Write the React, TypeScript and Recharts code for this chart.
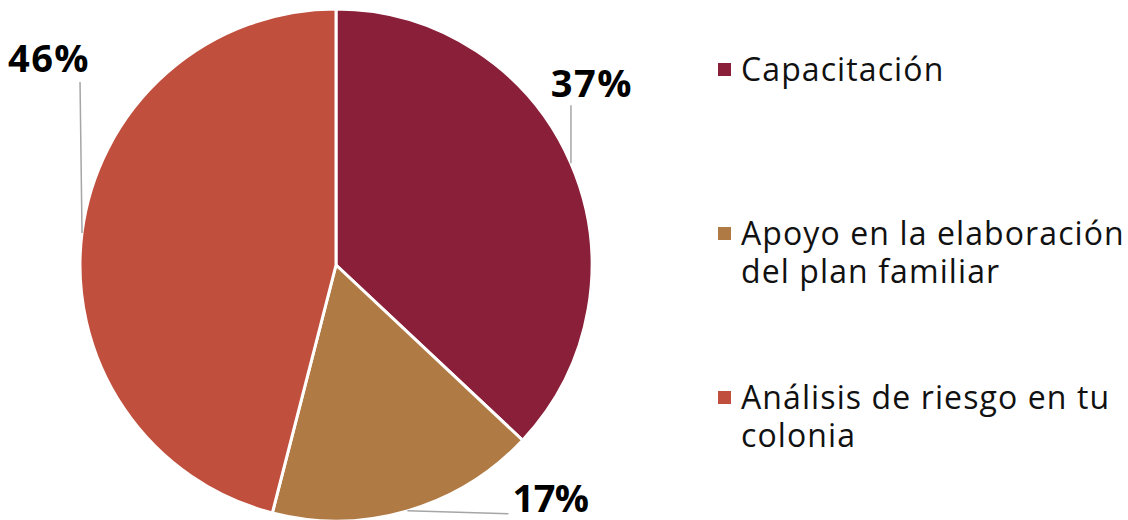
import { PieChart, Pie, Cell, Legend } from 'recharts';

const categories = ['Capacitación', 'Apoyo en la elaboración del plan familiar', 'Análisis de riesgo en tu colonia'];
const shares = [37, 17, 46];
const colors = ['#8A1F39', '#B07A45', '#C14F3D'];

const data = categories.map((name, i) => ({ name, value: shares[i] }));

// leader line end (relative to slice edge) and label offset (relative to line end)
const leaders = [
  { dx: 0, dy: -58, tx: 21, ty: -8, anchor: 'middle' },
  { dx: 101, dy: 3, tx: 4, ty: -2, anchor: 'start' },
  { dx: -2, dy: -151, tx: -31, ty: -10, anchor: 'middle' },
];

const RADIAN = Math.PI / 180;

function renderLabel(props: any) {
  const { cx, cy, midAngle, outerRadius, index, percent } = props;
  const x0 = cx + outerRadius * Math.cos(-midAngle * RADIAN);
  const y0 = cy + outerRadius * Math.sin(-midAngle * RADIAN);
  const l = leaders[index];
  const x1 = x0 + l.dx;
  const y1 = y0 + l.dy;
  return (
    <g>
      <line x1={x0} y1={y0} x2={x1} y2={y1} stroke="#A6A6A6" strokeWidth={1.5} />
      <text
        x={x1 + l.tx}
        y={y1 + l.ty}
        textAnchor={l.anchor}
        fill="#000"
        fontSize={38}
        fontWeight={700}
        fontFamily="'Open Sans', sans-serif"
        letterSpacing={index === 1 ? -0.5 : 1.5}
      >
        {`${Math.round(percent * 100)}%`}
      </text>
    </g>
  );
}

function LegendBox() {
  return (
    <div style={{ fontFamily: "'Open Sans', sans-serif", fontSize: 32, letterSpacing: 1.1, color: '#111', lineHeight: '38px' }}>
      {categories.map((name, i) => (
        <div key={name} style={{ display: 'flex', alignItems: 'flex-start', height: 164 }}>
          <div style={{ width: 13, height: 13, background: colors[i], marginTop: 13, marginRight: 10, flexShrink: 0 }} />
          <div style={{ width: 390 }}>{name}</div>
        </div>
      ))}
    </div>
  );
}

export default function App() {
  return (
    <div style={{ position: 'absolute', left: 0, top: 0, width: 1128, height: 520, background: '#fff' }}>
      <PieChart width={1128} height={520} margin={{ top: 0, right: 0, bottom: 0, left: 0 }}>
        <Pie
          data={data}
          dataKey="value"
          nameKey="name"
          cx={336}
          cy={265}
          outerRadius={256}
          startAngle={90}
          endAngle={-270}
          stroke="#fff"
          strokeWidth={3}
          label={renderLabel}
          labelLine={false}
          isAnimationActive={false}
        >
          {data.map((d, i) => (
            <Cell key={d.name} fill={colors[i]} />
          ))}
        </Pie>
        <Legend
          content={() => <LegendBox />}
          wrapperStyle={{ position: 'absolute', left: 718, top: 50, width: 410 }}
        />
      </PieChart>
    </div>
  );
}
